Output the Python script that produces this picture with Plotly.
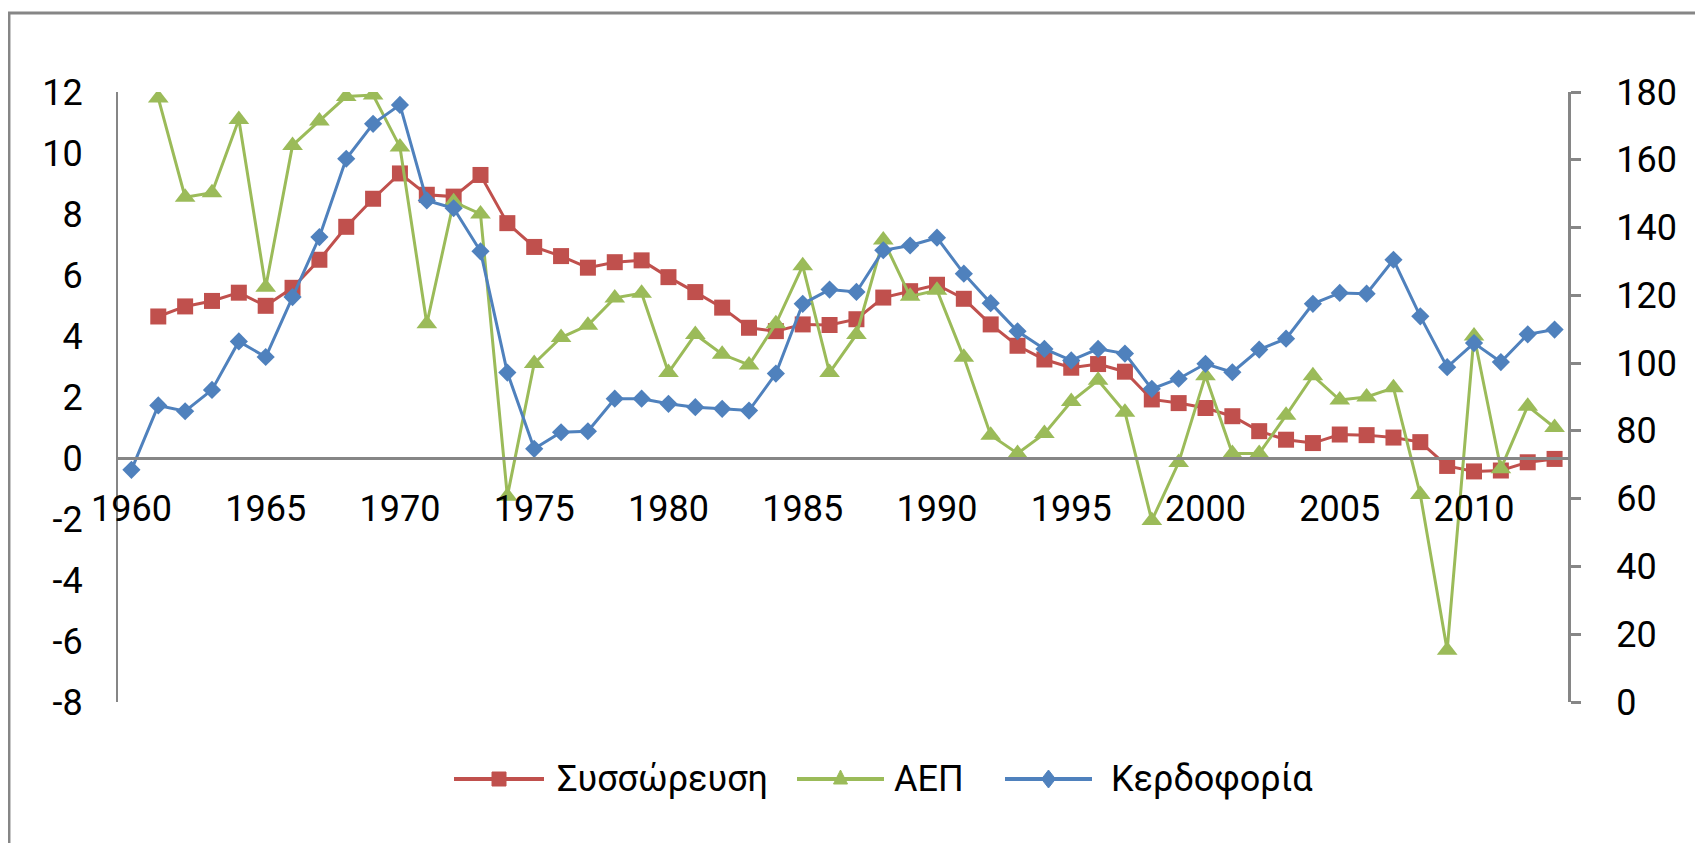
import plotly.graph_objects as go

# Données (1960-2013)
annees = list(range(1960, 2014))

# Συσσώρευση (axe gauche)
sussoreusi = [None,
              4.64, 4.97, 5.15, 5.42, 4.99, 5.58, 6.50, 7.58, 8.50, 9.33,
              8.63, 8.57, 9.28, 7.70, 6.92, 6.62, 6.24, 6.42, 6.48, 5.93,
              5.44, 4.93, 4.27, 4.16, 4.38, 4.36, 4.55, 5.26, 5.47, 5.68,
              5.22, 4.38, 3.68, 3.23, 2.96, 3.08, 2.83, 1.92, 1.80, 1.64,
              1.37, 0.88, 0.60, 0.49, 0.77, 0.75, 0.67, 0.52, -0.26, -0.44,
              -0.41, -0.14, -0.03]

# ΑΕΠ (axe gauche)
aep = [None,
       11.80, 8.55, 8.70, 11.10, 5.60, 10.25, 11.05, 11.85, 11.90, 10.20,
       4.40, 8.40, 8.00, -1.25, 3.10, 3.95, 4.35, 5.25, 5.40, 2.80,
       4.05, 3.40, 3.05, 4.40, 6.30, 2.80, 4.05, 7.15, 5.30, 5.50,
       3.30, 0.75, 0.15, 0.80, 1.85, 2.55, 1.50, -2.05, -0.15, 2.70,
       0.15, 0.15, 1.40, 2.70, 1.90, 2.00, 2.30, -1.20, -6.30, 4.00,
       -0.35, 1.70, 1.00]

# Κερδοφορία (axe droit)
kerdoforia = [68.5,
              87.5, 85.8, 92.1, 106.4, 101.8, 119.5, 137.2, 160.3, 170.6, 176.2,
              148.0, 145.7, 133.0, 97.2, 74.7, 79.6, 79.9, 89.5, 89.5, 88.0,
              87.0, 86.5, 86.0, 96.9, 117.5, 121.7, 121.0, 133.3, 134.7, 137.0,
              126.4, 117.7, 109.4, 104.2, 100.8, 104.2, 102.8, 92.4, 95.4, 99.8,
              97.3, 104.0, 107.2, 117.5, 120.7, 120.5, 130.5, 113.8, 98.8, 105.9,
              100.3, 108.5, 109.9]

ticks_annees = list(range(1960, 2011, 5))
ticks_gauche = list(range(-8, 13, 2))
labels_gauche = [str(v) for v in ticks_gauche]  # trait d'union simple comme Excel
ticks_droite = list(range(0, 181, 20))

ROUGE = '#C0504D'
VERT = '#9BBB59'
BLEU = '#4F81BD'
GRIS = '#868686'
POLICE = 'Roboto, Noto Sans, sans-serif'

series = [
    ('Συσσώρευση', sussoreusi, ROUGE, 'square', 16, 'y'),
    ('ΑΕΠ', aep, VERT, 'triangle-up', 18, 'y'),
    ('Κερδοφορία', kerdoforia, BLEU, 'diamond', 14, 'y2'),
]

fig = go.Figure()
for nom, valeurs, couleur, symbole, taille, axe in series:
    fig.add_trace(go.Scatter(
        x=annees, y=valeurs, name=nom, mode='lines+markers', yaxis=axe,
        line=dict(color=couleur, width=3),
        marker=dict(symbol=symbole, size=taille, color=couleur),
    ))

# Légende à la façon Excel : trait long avec marqueur au milieu
L, T, W, H = 110, 84, 1450, 610     # zone de tracé en pixels
def px_x(p):
    return (p - L) / W

leg_y = (T + H - 771) / H
# (début du trait, fin du trait, début du texte) en pixels
leg_pos = [(446, 536, 547), (789, 876, 884), (997, 1084, 1101)]
# en mode pixel l'axe y des formes monte vers le haut
chemins = {
    'square': 'M-7,-7 L7,-7 L7,7 L-7,7 Z',
    'triangle-up': 'M-7,-5 L7,-5 L0,9 Z',
    'diamond': 'M0,-9 L7,0 L0,9 L-7,0 Z',
}

shapes = []
annotations = []
for (nom, _, couleur, symbole, _, _), (x0, x1, xt) in zip(series, leg_pos):
    shapes.append(dict(type='line', xref='paper', yref='paper',
                       x0=px_x(x0), x1=px_x(x1), y0=leg_y, y1=leg_y,
                       line=dict(color=couleur, width=4)))
    shapes.append(dict(type='path', xref='paper', yref='paper',
                       xsizemode='pixel', ysizemode='pixel',
                       xanchor=px_x((x0 + x1) / 2), yanchor=leg_y,
                       path=chemins[symbole], fillcolor=couleur,
                       line=dict(color=couleur, width=1)))
    annotations.append(dict(text=nom, xref='paper', yref='paper',
                            x=px_x(xt), y=leg_y, xanchor='left',
                            yanchor='middle', showarrow=False,
                            font=dict(size=36)))

# cadre extérieur (haut et gauche)
shapes.append(dict(type='rect', xref='paper', yref='paper',
                   x0=-0.0752, x1=1.3, y0=-0.4, y1=1.1295,
                   line=dict(color=GRIS, width=3), layer='below'))

fig.update_layout(
    width=1703, height=843,
    margin=dict(l=L, r=1703 - L - W, t=T, b=843 - T - H, autoexpand=False),
    paper_bgcolor='white', plot_bgcolor='white',
    font=dict(family=POLICE, size=36, color='black'),
    showlegend=False,
    xaxis=dict(
        range=[1959.5, 2013.5], tickvals=ticks_annees,
        showgrid=False, zeroline=False,
        showline=True, linecolor=GRIS, linewidth=3,
        anchor='free', position=0.4,
        ticks='', ticklabelstandoff=18,
    ),
    yaxis=dict(
        range=[-8, 12], tickvals=ticks_gauche, ticktext=labels_gauche,
        showgrid=False, zeroline=False,
        showline=True, linecolor=GRIS, linewidth=2,
        ticks='', ticklabelstandoff=26,
    ),
    yaxis2=dict(
        range=[0, 180], tickvals=ticks_droite,
        overlaying='y', side='right',
        showgrid=False, zeroline=False,
        showline=True, linecolor=GRIS, linewidth=3,
        ticks='outside', ticklen=10, tickwidth=3, tickcolor=GRIS,
        ticklabelstandoff=28,
    ),
    shapes=shapes,
    annotations=annotations,
)

fig.write_html("out.html")
